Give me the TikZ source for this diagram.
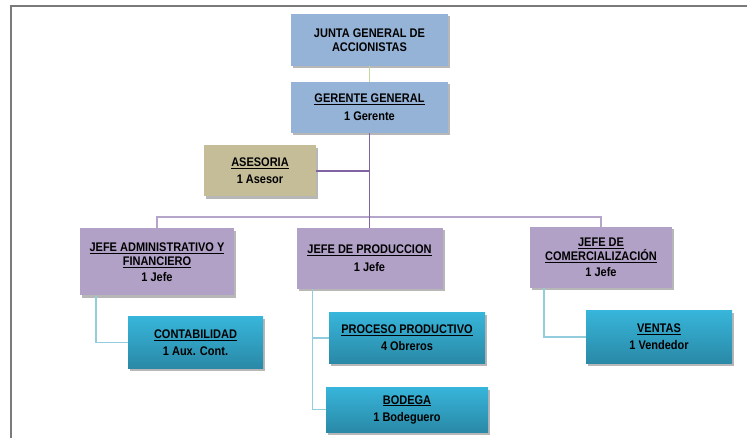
\documentclass[tikz,border=0pt]{standalone}
\usepackage{fontspec}
\setmainfont{Liberation Sans}[FakeStretch=0.88]
\usetikzlibrary{shadows}

\definecolor{azulgris}{HTML}{95B3D7}
\definecolor{arena}{HTML}{C4BD97}
\definecolor{lila}{HTML}{B2A1C7}
\definecolor{morado}{HTML}{8064A2}
\definecolor{lilalinea}{HTML}{B5A5CB}
\definecolor{cianclaro}{HTML}{37B5DA}
\definecolor{cianoscuro}{HTML}{2A89A7}
\definecolor{verdelinea}{HTML}{C3D69B}
\definecolor{cianlinea}{HTML}{93CDDD}
\definecolor{marcogris}{HTML}{7A7A7A}

\begin{document}
\begin{tikzpicture}[x=1pt,y=-1pt,
  caja/.style={rectangle,inner sep=0pt,align=center,
    font=\bfseries\fontsize{12.5}{14}\selectfont,
    drop shadow={shadow xshift=2pt,shadow yshift=-2.5pt,opacity=0.4,fill=black!70}},
  directivo/.style={caja,fill=azulgris},
  asesor/.style={caja,fill=arena},
  jefe/.style={caja,fill=lila},
  unidad/.style={caja,top color=cianclaro,bottom color=cianoscuro},
  conector/.style={line width=1.2pt}]

\useasboundingbox (0,0) rectangle (747,438);
\draw [marcogris,line width=1.2pt] (11,438) -- (11,6) -- (747,6);

\node [directivo,minimum width=157,minimum height=52] (junta) at (369.5,40)
  {JUNTA GENERAL DE\\ACCIONISTAS};
\node [directivo,minimum width=157,minimum height=51] (gerente) at (369.5,107.5)
  {\underline{GERENTE GENERAL}\\[4pt]1 Gerente};
\node [asesor,minimum width=112,minimum height=51] (asesoria) at (260,171)
  {\underline{ASESORIA}\\[3pt]1 Asesor};

\node [jefe,minimum width=154,minimum height=67] (jadm) at (157,262)
  {\underline{JEFE ADMINISTRATIVO Y}\\\underline{FINANCIERO}\\[2pt]1 Jefe};
\node [jefe,minimum width=146,minimum height=61] (jprod) at (369.5,258.5)
  {\underline{JEFE DE PRODUCCION}\\[4pt]1 Jefe};
\node [jefe,minimum width=142,minimum height=61] (jcom) at (601,257.5)
  {\underline{JEFE DE}\\\underline{COMERCIALIZACIÓN}\\[2pt]1 Jefe};

\node [unidad,minimum width=135,minimum height=51] (conta) at (195.5,342.5)
  {\underline{CONTABILIDAD}\\[3pt]1 Aux. Cont.};
\node [unidad,minimum width=156,minimum height=50] (proceso) at (407,338)
  {\underline{PROCESO PRODUCTIVO}\\[3pt]4 Obreros};
\node [unidad,minimum width=162,minimum height=45] (bodega) at (407,409.5)
  {\underline{BODEGA}\\[3pt]1 Bodeguero};
\node [unidad,minimum width=146,minimum height=52] (ventas) at (659,337)
  {\underline{VENTAS}\\[3pt]1 Vendedor};

\coordinate (bus) at (369.5,217);

% lineas de mando
\draw [conector,verdelinea] (junta) -- (gerente);
\draw [conector,lilalinea] (jadm.north) |- (bus) -| (jcom.north);
\draw [conector,morado] (gerente.south) -- (jprod.north);
\draw [conector,morado] (asesoria.east) -- (asesoria.east -| bus);

\draw [conector,cianlinea] ([xshift=-61pt]jadm.south) |- (conta.west);
\draw [conector,cianlinea] ([xshift=-57pt]jprod.south) |- (proceso.west);
\draw [conector,cianlinea] ([xshift=-57pt]jprod.south) |- (bodega.west);
\draw [conector,cianlinea] ([xshift=-57pt]jcom.south) |- (ventas.west);

\end{tikzpicture}
\end{document}
